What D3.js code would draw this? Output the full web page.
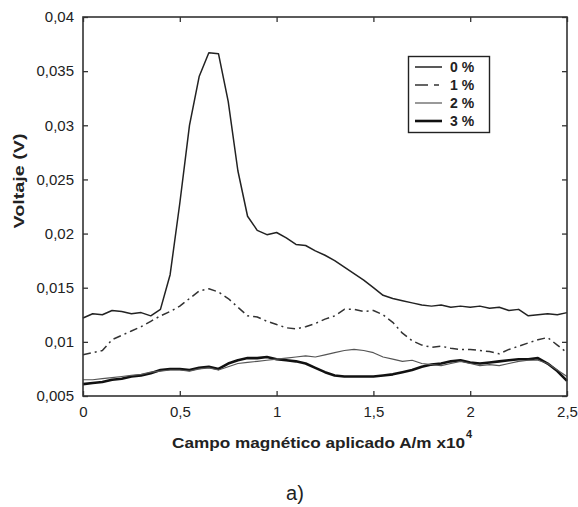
<!DOCTYPE html>
<html>
<head>
<meta charset="utf-8">
<script src="https://cdn.jsdelivr.net/npm/d3@7"></script>
<style>
  html, body { margin: 0; padding: 0; background: #ffffff; }
  svg { display: block; }
  text { font-family: "Liberation Sans", Arial, sans-serif; fill: #222; }
</style>
</head>
<body>
<svg id="chart" width="578" height="507"></svg>
<script>
// ---- data (field in A/m x10^4, voltage in V) ----
const field = [0.00,0.05,0.10,0.15,0.20,0.25,0.30,0.35,0.40,0.45,0.50,0.55,0.60,0.65,0.70,0.75,0.80,0.85,0.90,0.95,
               1.00,1.05,1.10,1.15,1.20,1.25,1.30,1.35,1.40,1.45,1.50,1.55,1.60,1.65,1.70,1.75,1.80,1.85,1.90,1.95,
               2.00,2.05,2.10,2.15,2.20,2.25,2.30,2.35,2.40,2.45,2.50];
const v0 = [0.0122,0.0126,0.0125,0.0129,0.0128,0.0126,0.0127,0.0124,0.0130,0.0162,0.0228,0.0300,0.0345,0.0367,0.0366,0.0322,0.0258,0.0216,0.0203,0.0199,
            0.0201,0.0196,0.0190,0.0189,0.0184,0.0180,0.0175,0.0169,0.0163,0.0157,0.0150,0.0143,0.0140,0.0138,0.0136,0.0134,0.0133,0.0134,0.0132,0.0133,
            0.0132,0.0133,0.0131,0.0132,0.0129,0.0130,0.0124,0.0125,0.0126,0.0125,0.0127];
const v1 = [0.0088,0.0090,0.0092,0.0102,0.0106,0.0110,0.0114,0.0119,0.0124,0.0128,0.0133,0.0140,0.0147,0.0149,0.0146,0.0140,0.0132,0.0124,0.0123,0.0119,
            0.0116,0.0113,0.0112,0.0114,0.0117,0.0121,0.0124,0.0130,0.0130,0.0128,0.0129,0.0125,0.0118,0.0108,0.0101,0.0097,0.0095,0.0096,0.0094,0.0093,
            0.0093,0.0092,0.0091,0.0089,0.0093,0.0096,0.0099,0.0102,0.0104,0.0097,0.0090];
const v2 = [0.0065,0.0065,0.0066,0.0067,0.0068,0.0069,0.0070,0.0072,0.0073,0.0074,0.0074,0.0073,0.0075,0.0076,0.0074,0.0077,0.0080,0.0081,0.0082,0.0083,
            0.0084,0.0085,0.0086,0.0087,0.0086,0.0088,0.0090,0.0092,0.0093,0.0092,0.0090,0.0086,0.0084,0.0082,0.0083,0.0080,0.0079,0.0078,0.0080,0.0082,
            0.0080,0.0078,0.0079,0.0078,0.0080,0.0082,0.0083,0.0083,0.0080,0.0074,0.0068];
const v3 = [0.0061,0.0062,0.0063,0.0065,0.0066,0.0068,0.0069,0.0071,0.0074,0.0075,0.0075,0.0074,0.0076,0.0077,0.0075,0.0080,0.0083,0.0085,0.0085,0.0086,
            0.0084,0.0083,0.0082,0.0080,0.0076,0.0072,0.0069,0.0068,0.0068,0.0068,0.0068,0.0069,0.0070,0.0072,0.0074,0.0077,0.0079,0.0080,0.0082,0.0083,
            0.0081,0.0080,0.0081,0.0082,0.0083,0.0084,0.0084,0.0085,0.0080,0.0073,0.0064];
const seriesNames = ["0 %", "1 %", "2 %", "3 %"];
const xTicks = [0, 0.5, 1, 1.5, 2, 2.5];
const xTickLabels = ["0", "0,5", "1", "1,5", "2", "2,5"];
const yTicks = [0.005, 0.01, 0.015, 0.02, 0.025, 0.03, 0.035, 0.04];
const yTickLabels = ["0,005", "0,01", "0,015", "0,02", "0,025", "0,03", "0,035", "0,04"];

// ---- layout ----
const svg = d3.select("#chart");
const L = 83, R = 567, T = 17, B = 396;
const x = d3.scaleLinear().domain([0, 2.5]).range([L, R]);
const y = d3.scaleLinear().domain([0.005, 0.04]).range([B, T]);

const styles = [
  { color: "#222", width: 1.5, dash: null },
  { color: "#333", width: 1.5, dash: "8,4,2,4" },
  { color: "#555", width: 1.2, dash: null },
  { color: "#111", width: 2.6, dash: null }
];
const allSeries = [v0, v1, v2, v3];

svg.append("rect").attr("x", L).attr("y", T).attr("width", R - L).attr("height", B - T).attr("fill", "#fff");

const line = d3.line().x((d, i) => x(field[i])).y(d => y(d));
const order = [0, 1, 3, 2];
order.forEach(k => {
  svg.append("path")
    .datum(allSeries[k])
    .attr("d", line)
    .attr("fill", "none")
    .attr("stroke", styles[k].color)
    .attr("stroke-width", styles[k].width)
    .attr("stroke-linejoin", "round")
    .attr("stroke-dasharray", styles[k].dash);
});

// axes (inward ticks on all four sides)
const fmtX = (d, i) => xTickLabels[i];
const fmtY = (d, i) => yTickLabels[i];
const axB = svg.append("g").attr("transform", `translate(0,${B})`)
  .call(d3.axisBottom(x).tickValues(xTicks).tickFormat(fmtX).tickSizeInner(-5).tickSizeOuter(0).tickPadding(10));
const axL = svg.append("g").attr("transform", `translate(${L},0)`)
  .call(d3.axisLeft(y).tickValues(yTicks).tickFormat(fmtY).tickSizeInner(-5).tickSizeOuter(0).tickPadding(9));
const axT = svg.append("g").attr("transform", `translate(0,${T})`)
  .call(d3.axisTop(x).tickValues(xTicks).tickFormat("").tickSizeInner(-5).tickSizeOuter(0));
const axR = svg.append("g").attr("transform", `translate(${R},0)`)
  .call(d3.axisRight(y).tickValues(yTicks).tickFormat("").tickSizeInner(-5).tickSizeOuter(0));
[axB, axL, axT, axR].forEach(g => {
  g.select(".domain").remove();
  g.selectAll(".tick line").attr("stroke", "#333").attr("stroke-width", 1.3);
  g.selectAll("text").style("font-family", "'Liberation Sans', Arial, sans-serif")
    .style("font-size", "15px").attr("fill", "#333");
});
svg.append("rect").attr("x", L).attr("y", T).attr("width", R - L).attr("height", B - T)
  .attr("fill", "none").attr("stroke", "#333").attr("stroke-width", 1.6);

// legend
const lg = svg.append("g");
lg.append("rect").attr("x", 408.5).attr("y", 56.5).attr("width", 81).attr("height", 76)
  .attr("fill", "#fff").attr("stroke", "#222").attr("stroke-width", 1.4);
const legendY = [67, 85, 103, 121];
seriesNames.forEach((name, k) => {
  lg.append("line").attr("x1", 415).attr("x2", 442).attr("y1", legendY[k]).attr("y2", legendY[k])
    .attr("stroke", styles[k].color).attr("stroke-width", styles[k].width)
    .attr("stroke-dasharray", k === 1 ? "13,6,5,20" : null);
  lg.append("text").attr("x", 450).attr("y", legendY[k] + 5)
    .style("font-size", "14px").style("font-weight", "bold").attr("fill", "#111").text(name);
});

// axis titles
svg.append("text").attr("x", 172).attr("y", 448)
  .style("font-size", "14.5px").style("font-weight", "bold").attr("fill", "#111")
  .attr("textLength", 293).attr("lengthAdjust", "spacingAndGlyphs")
  .text("Campo magnético aplicado A/m x10");
svg.append("text").attr("x", 466).attr("y", 438)
  .style("font-size", "11px").style("font-weight", "bold").attr("fill", "#111").text("4");

svg.append("text").attr("transform", "translate(24,181) rotate(-90)")
  .attr("text-anchor", "middle")
  .style("font-size", "15px").style("font-weight", "bold").attr("fill", "#111")
  .attr("textLength", 95).attr("lengthAdjust", "spacingAndGlyphs")
  .text("Voltaje (V)");

svg.append("text").attr("x", 295).attr("y", 500).attr("text-anchor", "middle")
  .style("font-size", "20px").attr("fill", "#111").text("a)");
</script>
</body>
</html>
